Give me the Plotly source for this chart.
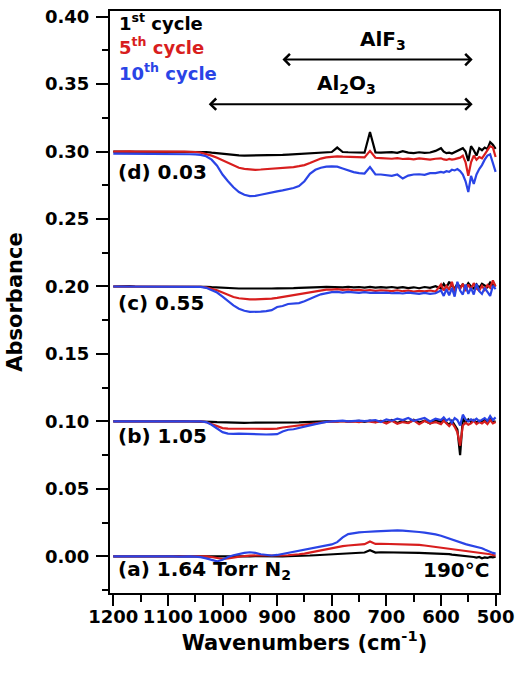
import plotly.graph_objects as go

# Wavenumber grid (cm-1): 10 cm-1 steps from 1200 to 610, then 5 cm-1 steps 600..500
wavenumbers = list(range(1200, 600, -10)) + list(range(600, 499, -5))

# Vertical offsets of the four panels (a)..(d)
offsets = [0.00, 0.10, 0.20, 0.30]
panel_labels = ["(a) 1.64 Torr N<sub>2</sub>", "(b) 1.05", "(c) 0.55", "(d) 0.03"]
cycle_names = ["1<sup>st</sup> cycle", "5<sup>th</sup> cycle", "10<sup>th</sup> cycle"]
cycle_colors = ["#000000", "#d81e1e", "#2a44e6"]

# Absorbance change relative to each panel offset, in units of 1e-3
# rows: 1200-1110 | 1100-1010 | 1000-910 | 900-810 | 800-710 | 700-610 | 600-550 | 545-500
a_1st = [0, 0.1, 0, 0, 0.1, 0, 0, 0.1, 0, 0,
         0, 0, 0.1, 0, 0, 0, -0.2, -0.3, -0.4, -0.5,
         -0.5, -0.4, -0.3, -0.2, 0, 0, 0.1, 0, 0.1, 0,
         0.1, 0, 0.2, 0.2, 0.3, 0.5, 0.6, 0.8, 1.0, 1.2,
         1.5, 1.8, 2.0, 2.2, 2.5, 2.6, 2.8, 4.5, 2.8, 3.0,
         3.0, 3.0, 2.8, 3.0, 2.7, 2.6, 2.5, 2.3, 2.2, 2.0,
         2.0, 1.8, 1.5, 1.6, 1.2, 1.0, 1.2, 0.8, 0.5, 0.6, 0.2,
         0.0, -0.5, -1.0, -0.5, -1.5, -0.8, -1.2, -0.5, -0.8, -0.3]
a_5th = [0, 0, 0, 0, 0, 0, 0, 0, 0, 0,
         0, 0, 0, 0, 0, 0, 0.2, 0, -0.5, -1.5,
         -2.0, -1.5, -0.8, -0.2, 0.2, 0.5, 0.8, 0.8, 0.6, 0.5,
         0.5, 0.6, 0.8, 1.0, 1.5, 2.0, 2.8, 3.5, 4.5, 5.5,
         6.0, 6.8, 7.5, 8.0, 8.5, 8.8, 9.0, 11.0, 9.2, 9.3,
         9.2, 9.3, 9.0, 9.2, 9.0, 8.8, 8.5, 8.0, 7.5, 7.0,
         6.5, 6.2, 6.0, 5.5, 5.2, 4.8, 4.5, 4.2, 4.0, 3.8, 3.5,
         3.2, 3.0, 3.2, 2.8, 2.5, 2.2, 2.0, 1.5, 1.0, 0.5]
a_10th = [0, -0.2, 0, -0.1, 0, -0.2, 0, -0.1, 0, -0.2,
          0, -0.1, -0.2, 0, -0.1, -0.3, -0.6, -1.5, -2.8, -3.8,
          -2.5, -0.5, 0.8, 1.8, 2.5, 3.0, 2.6, 1.5, 0.8, 0.6,
          1.0, 1.8, 2.5, 3.2, 4.0, 5.0, 6.0, 6.8, 7.5, 8.2,
          8.8, 10.5, 14.0, 16.5, 17.3, 17.8, 18.0, 18.5, 18.5, 18.7,
          19.0, 19.0, 19.2, 19.0, 18.8, 18.5, 18.0, 17.5, 17.0, 16.2,
          15.2, 14.5, 13.5, 12.8, 12.0, 11.2, 10.5, 10.0, 9.5, 9.0, 8.5,
          8.0, 7.5, 7.5, 7.0, 6.0, 5.0, 4.0, 3.0, 2.5, 2.0]

b_1st = [0, 0.2, 0, 0.1, 0, 0.2, 0, 0, 0.1, 0,
         0, 0.1, 0, 0.2, 0, 0, 0.1, 0, -0.3, -0.6,
         -0.8, -0.9, -1.0, -1.0, -1.1, -1.0, -1.0, -1.1, -1.0, -1.0,
         -1.0, -0.9, -1.0, -0.8, -0.7, -0.5, -0.3, -0.2, 0, 0,
         0.2, 0, 0.3, -0.2, 0.2, 0.4, -0.3, 0.5, -0.5, 0.3,
         -0.8, 1.0, -1.2, 0.5, -1.0, 1.2, -0.8, 0.6, -1.5, 0.8,
         -0.5, 1.5, -1.0, -2.5, 0.5, -3.0, -6.0, -25.0, 2.0, -1.0, 1.5,
         -0.5, 1.0, -1.0, 0.5, -0.5, 1.5, 0.0, 2.0, -0.5, 0.0]
b_5th = [0, 0, 0.2, 0, 0, 0.1, 0, 0, 0, 0.1,
         0, 0, 0.1, 0, 0, 0, 0, -0.5, -2.0, -3.8,
         -5.0, -5.3, -5.4, -5.5, -5.6, -5.6, -5.5, -5.6, -5.5, -5.5,
         -5.3, -4.5, -4.0, -3.8, -3.5, -3.0, -2.3, -1.5, -0.8, -0.3,
         0, -0.2, 0.2, -0.3, 0, -0.5, 0.3, -0.2, -0.8, 0.2,
         -1.5, 0.5, -1.8, -0.5, -1.2, 0.8, -2.0, 0.3, -1.5, -0.5,
         -2.0, 0.5, -1.5, -3.5, -1.0, -4.0, -8.0, -18.0, -3.0, -1.0, -2.5,
         -1.5, 0.5, -2.0, -0.5, -1.5, 0.0, -2.0, 1.0, -1.5, -0.5]
b_10th = [0, 0.1, 0, 0.2, 0, 0, 0.1, 0, 0.2, 0,
          0, 0.1, 0, 0, 0.1, 0, 0, -0.5, -2.5, -5.5,
          -8.0, -9.0, -9.3, -9.0, -9.2, -9.5, -9.6, -9.6, -9.7, -9.6,
          -9.5, -7.5, -6.2, -5.8, -5.0, -4.0, -3.0, -2.0, -1.0, -0.3,
          0, 0.2, 0.5, 0, 0.3, 0.5, 0.2, 0.6, 1.0, -0.5,
          1.5, 0.5, 2.0, 1.0, 2.5, 0.5, 1.5, 2.5, 0.0, 2.0,
          1.0, 3.0, 0.5, 2.0, -1.0, 2.5, 1.0, -3.0, 5.0, 1.5, 0.0,
          1.5, 0.5, 2.0, 0.0, 1.0, 2.5, 0.5, 4.0, 1.0, 3.0]

c_1st = [0, 0.2, 0, 0.2, 0, 0, 0.2, 0, 0.1, 0,
         0, 0.2, 0, 0, 0, 0, 0, -0.2, -0.5, -0.8,
         -1.0, -1.2, -1.4, -1.5, -1.5, -1.6, -1.5, -1.5, -1.6, -1.5,
         -1.4, -1.5, -1.3, -1.2, -1.0, -1.0, -0.8, -0.6, -0.5, -0.3,
         -0.5, -0.3, -0.6, -0.2, -0.7, -0.4, -0.8, -0.3, -0.9, -0.5,
         -0.8, -0.4, -1.0, -0.5, -1.2, -0.6, -1.3, -0.4, -1.0, 0.2,
         -1.5, 2.0, -1.0, 3.5, 0.5, -1.5, 2.0, -0.5, 1.5, -1.0, 2.5,
         0.0, -1.5, 1.5, -1.0, 2.0, 0.5, -0.5, 3.0, 1.0, 0.5]
c_5th = [0, 0, 0.1, 0, 0, 0.1, 0, 0, 0, 0,
         0, 0, 0, 0, 0, 0, -0.2, -0.6, -1.5, -2.8,
         -4.5, -6.2, -7.8, -8.7, -9.3, -9.6, -9.6, -9.5, -9.3, -9.0,
         -8.5, -7.8, -7.0, -6.5, -6.0, -5.2, -4.4, -3.5, -2.8, -2.3,
         -2.3, -2.0, -2.5, -2.2, -2.8, -2.5, -3.0, -2.6, -3.2, -2.8,
         -3.0, -3.4, -2.8, -3.5, -3.0, -3.8, -3.2, -3.6, -3.0, -3.8,
         1.5, -3.0, 0.5, -2.5, 3.5, -4.0, 1.0, -2.0, 2.0, -3.5, 1.5,
         -2.0, 2.5, -1.5, -3.0, 0.5, -2.5, 1.0, -1.0, 4.5, 0.0]
c_10th = [0, 0, 0, 0, 0, 0, 0, 0, 0, 0,
          0, 0, 0, 0, 0, 0, -0.3, -1.0, -2.5, -4.5,
          -7.5, -11.0, -14.0, -16.5, -18.0, -18.8, -19.0, -18.7, -18.2, -17.5,
          -15.2, -14.5, -13.0, -12.5, -12.3, -11.0, -9.5, -7.5, -5.8, -4.8,
          -4.2, -4.0, -4.5, -4.0, -4.5, -4.8, -4.2, -4.8, -4.5, -4.8,
          -4.5, -5.0, -4.8, -5.2, -4.6, -5.0, -5.5, -4.8, -5.5, -5.0,
          -3.0, -7.0, -2.0, -6.5, -1.0, -7.5, 3.5, -3.0, -6.0, 1.5, -5.5,
          -1.0, -6.0, 2.0, -3.5, -5.5, -1.0, -4.0, -7.0, 0.5, -2.0]

d_1st = [0, 0, 0.2, 0, 0, 0.2, 0, 0, 0.2, 0,
         0, 0, 0, 0.2, 0, 0, 0, -0.3, -0.8, -1.3,
         -1.8, -2.2, -2.5, -2.8, -3.0, -3.0, -2.9, -3.0, -2.8, -2.8,
         -2.6, -2.5, -2.3, -2.0, -1.8, -1.5, -1.2, -1.0, -0.8, -0.5,
         -0.3, 3.0, -0.3, -0.5, -0.6, -0.4, -0.8, 14.5, -0.6, -0.8,
         -0.8, -0.4, -1.0, 0.3, -0.8, -1.2, -0.5, -1.0, -0.7, 0.5,
         2.5, 0.0, -1.2, -0.8, -1.5, -0.5, 0.5, 1.0, 2.5, 0.0, -7.0,
         4.0, 1.0, -3.0, 2.5, 1.0, 3.0, 2.0, 7.0, 5.0, 2.0]
d_5th = [0, 0.2, 0, 0.2, 0, 0.2, 0, 0, 0.2, 0,
         0, 0.2, 0, 0, 0, -0.3, -0.8, -1.8, -3.0, -4.5,
         -6.5, -8.5, -10.5, -12.0, -12.8, -13.3, -13.5, -13.3, -13.0, -12.8,
         -12.5, -12.3, -12.0, -11.5, -10.8, -10.0, -8.5, -6.8, -5.2, -4.3,
         -3.8, -3.5, -3.8, -4.0, -4.2, -4.5, -4.3, 0.5, -4.6, -4.8,
         -5.0, -5.3, -4.8, -5.5, -5.2, -5.8, -5.0, -5.5, -6.0, -5.3,
         -5.0, -5.8, -6.2, -5.5, -6.0, -5.6, -5.0, -4.5, -3.0, -8.0, -18.0,
         -8.0, -3.0, -6.0, -4.0, -5.0, -2.0, 1.0, 4.0, 3.0, -4.0]
d_10th = [-1.5, -1.5, -1.6, -1.5, -1.6, -1.7, -1.6, -1.7, -1.8, -1.7,
          -1.8, -1.8, -1.9, -1.8, -2.0, -2.1, -2.5, -3.5, -6.0, -10.5,
          -17.0, -22.0, -26.5, -30.0, -32.0, -33.0, -32.8, -32.0, -31.0, -30.0,
          -29.5, -28.8, -28.0, -27.0, -25.5, -22.0, -16.5, -13.5, -12.0, -11.2,
          -11.0, -11.2, -12.5, -14.0, -15.2, -16.0, -16.3, -11.5, -17.0, -17.0,
          -17.5, -18.0, -17.0, -20.0, -17.8, -17.0, -16.8, -17.2, -16.0, -16.0,
          -15.0, -15.5, -14.5, -15.0, -13.5, -14.0, -13.0, -14.5, -17.0, -22.0, -30.0,
          -18.0, -24.0, -17.0, -13.0, -10.0, -6.0, -3.0, -2.0, -8.0, -15.0]

panels = [[a_1st, a_5th, a_10th],
          [b_1st, b_5th, b_10th],
          [c_1st, c_5th, c_10th],
          [d_1st, d_5th, d_10th]]

FONT = "DejaVu Sans"

fig = go.Figure()
for p, series in enumerate(panels):
    for k, vals in enumerate(series):
        fig.add_trace(go.Scatter(
            x=wavenumbers,
            y=[offsets[p] + v * 1e-3 for v in vals],
            mode="lines",
            line=dict(color=cycle_colors[k], width=2.2),
            name=f"{panel_labels[p]} {cycle_names[k]}",
            showlegend=False,
            hoverinfo="skip",
        ))

annotations = []
# cycle legend (coloured text)
legend_y = [0.3962, 0.3779, 0.3590]
for k in range(3):
    annotations.append(dict(
        x=1194, y=legend_y[k], xref="x", yref="y", xanchor="left", yanchor="middle",
        text=cycle_names[k], showarrow=False,
        font=dict(family=FONT, size=18, color=cycle_colors[k], weight="bold")))

# panel labels
label_y = [-0.0105, 0.0890, 0.1875, 0.2852]
for p in range(4):
    annotations.append(dict(
        x=1195, y=label_y[p], xref="x", yref="y", xanchor="left", yanchor="middle",
        text=panel_labels[p], showarrow=False,
        font=dict(family=FONT, size=20, color="black", weight="bold")))

annotations.append(dict(
    x=509, y=-0.0103, xref="x", yref="y", xanchor="right", yanchor="middle",
    text="190°C", showarrow=False,
    font=dict(family=FONT, size=20, color="black", weight="bold")))

# band ranges
annotations.append(dict(
    x=706, y=0.3828, xref="x", yref="y", xanchor="center", yanchor="middle",
    text="AlF<sub>3</sub>", showarrow=False,
    font=dict(family=FONT, size=20, color="black", weight="bold")))
annotations.append(dict(
    x=773, y=0.3502, xref="x", yref="y", xanchor="center", yanchor="middle",
    text="Al<sub>2</sub>O<sub>3</sub>", showarrow=False,
    font=dict(family=FONT, size=20, color="black", weight="bold")))
for (x_left, x_right, yy) in [(893, 542, 0.3682), (1028, 542, 0.3351)]:
    annotations.append(dict(
        x=x_right, y=yy, ax=x_left, ay=yy, xref="x", yref="y", axref="x", ayref="y",
        text="", showarrow=True, arrowside="end+start",
        arrowhead=4, startarrowhead=4, arrowsize=1.1, startarrowsize=1.1,
        arrowwidth=2, arrowcolor="black", standoff=0, startstandoff=0))

fig.update_layout(
    width=520, height=673,
    margin=dict(l=110, r=18, t=6, b=80),
    paper_bgcolor="white", plot_bgcolor="white",
    font=dict(family=FONT, color="black", weight="bold"),
    annotations=annotations,
)

fig.update_xaxes(
    range=[1206, 493.8], autorange=False,
    tickmode="linear", tick0=500, dtick=100,
    ticks="outside", ticklen=11, tickwidth=2, tickcolor="black",
    minor=dict(dtick=50, tick0=500, ticks="outside", ticklen=7, tickwidth=2, tickcolor="black"),
    showline=True, linewidth=2, linecolor="black", mirror=True,
    showgrid=False, zeroline=False,
    tickfont=dict(family=FONT, size=18, color="black", weight="bold"),
    ticklabelstandoff=-5,
    title=dict(text="Wavenumbers (cm<sup>-1</sup>)", standoff=10,
               font=dict(family=FONT, size=21, color="black", weight="bold")),
)
fig.update_yaxes(
    range=[-0.0272, 0.4042], autorange=False,
    tickmode="linear", tick0=0, dtick=0.05, tickformat=".2f",
    ticks="outside", ticklen=12, tickwidth=2, tickcolor="black",
    minor=dict(dtick=0.025, tick0=0, ticks="outside", ticklen=6, tickwidth=2, tickcolor="black"),
    showline=True, linewidth=2, linecolor="black", mirror=True,
    showgrid=False, zeroline=False,
    tickfont=dict(family=FONT, size=18, color="black", weight="bold"),
    ticklabelstandoff=3,
    title=dict(text="Absorbance", standoff=17,
               font=dict(family=FONT, size=21, color="black", weight="bold")),
)

fig.write_html("out.html")
